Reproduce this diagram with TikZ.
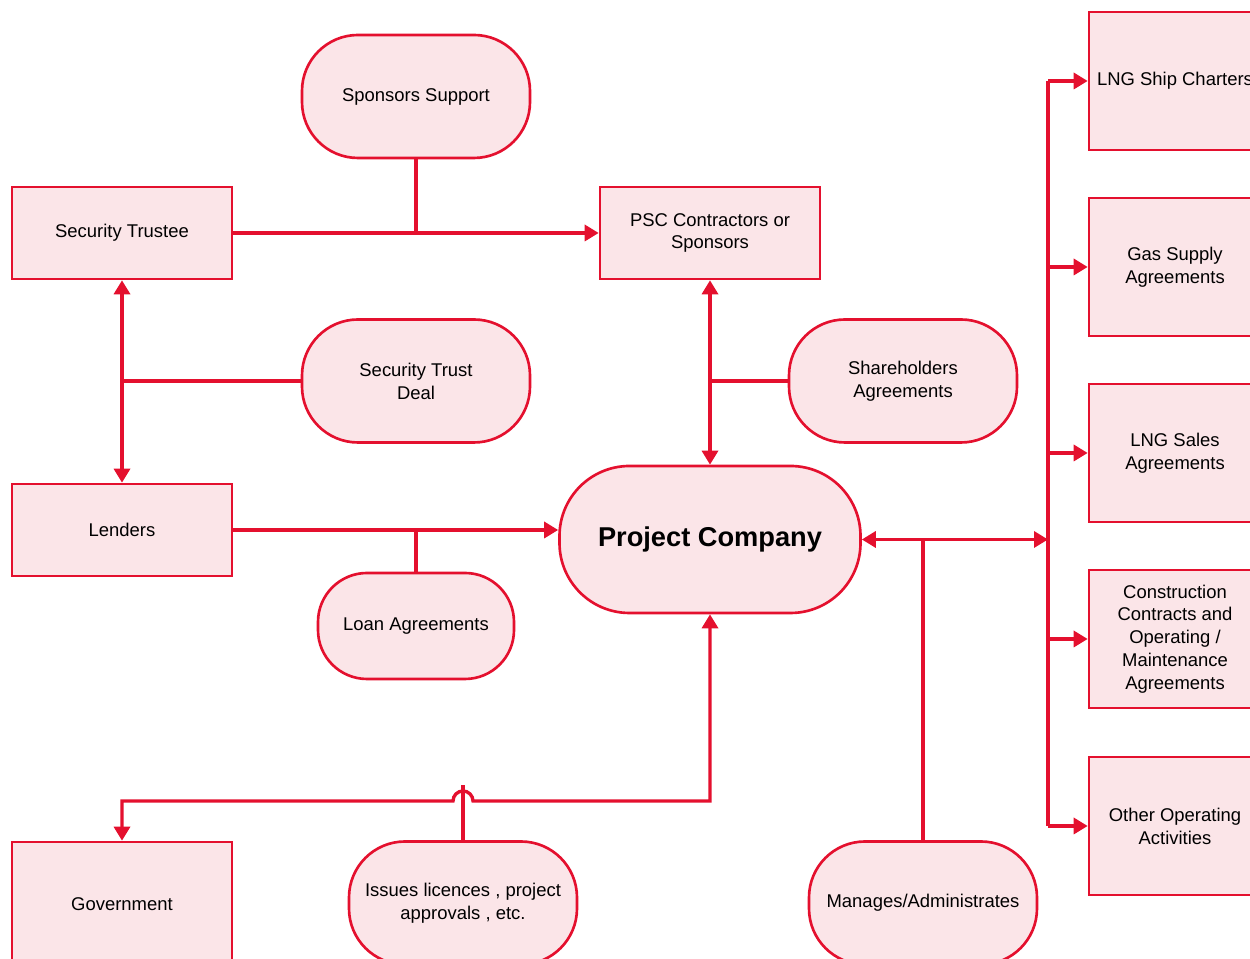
\documentclass[tikz,border=0pt]{standalone}
\usepackage{fontspec}
\setmainfont{Liberation Sans}
\usetikzlibrary{positioning, arrows.meta}
\definecolor{dealred}{RGB}{228,16,46}
\definecolor{dealpink}{RGB}{251,229,232}
\tikzset{
	party/.style={
		rectangle,
		draw=dealred,
		line width=1.5pt,
		fill=dealpink,
		align=center,
		minimum width=4.4cm,
		minimum height=1.84cm,
		font=\fontsize{10.5}{13}\selectfont,
	},
	sidebox/.style={
		party,
		minimum width=3.44cm,
		minimum height=2.76cm,
	},
	pill/.style={
		party,
		rounded corners=1.12cm,
		minimum width=4.56cm,
		minimum height=2.46cm,
	},
	link/.style={
		draw=dealred,
		line width=1.9pt,
	},
}

\begin{document}
\begin{tikzpicture}[>={Triangle[length=0.28cm,width=0.32cm]}]
	\useasboundingbox (0,0) rectangle (25,19.18);

	% parties on the left and in the middle
	\node [pill] (spons) at (8.32,17.25) {Sponsors Support};
	\node [party] (trustee) at (2.44,14.52) {Security Trustee};
	\node [party] (psc) at (14.2,14.52) {PSC Contractors or\\Sponsors};
	\node [pill] (trust) at (8.32,11.56) {Security Trust\\Deal};
	\node [pill] (share) at (18.06,11.56) {Shareholders\\Agreements};
	\node [party] (lenders) at (2.44,8.58) {Lenders};
	\node [pill, minimum width=6.02cm, minimum height=2.94cm, rounded corners=1.4cm,
		font=\fontsize{15.5}{19}\selectfont\bfseries] (pc) at (14.2,8.39) {Project Company};
	\node [pill, minimum width=3.92cm, minimum height=2.12cm, rounded corners=0.98cm] (loan) at (8.32,6.66) {Loan Agreements};
	\node [party, minimum height=2.48cm] (gov) at (2.44,1.1) {Government};
	\node [pill] (issues) at (9.26,1.12) {Issues licences , project\\approvals , etc.};
	\node [pill] (manage) at (18.46,1.12) {Manages/Administrates};

	% agreements on the right
	\node [sidebox] (ship) at (23.5,17.56) {LNG Ship Charters};
	\node [sidebox] (gas) at (23.5,13.84) {Gas Supply\\Agreements};
	\node [sidebox] (sales) at (23.5,10.12) {LNG Sales\\Agreements};
	\node [sidebox] (cons) at (23.5,6.4) {Construction\\Contracts and\\Operating /\\Maintenance\\Agreements};
	\node [sidebox] (other) at (23.5,2.66) {Other Operating\\Activities};

	\coordinate (bustop) at (20.96,17.56);
	\coordinate (busbot) at (20.96,2.66);
	\coordinate (govbend) at (2.44,3.16);
	\coordinate (issuetop) at (9.26,3.48);

	\draw [link, ->] (trustee) to (psc);
	\draw [link] (spons.south) -- (spons.south |- trustee.east);
	\draw [link, <->] (trustee) to (lenders);
	\draw [link] (trust.west) -- (trust.west -| trustee.south);
	\draw [link, <->] (psc) to (pc);
	\draw [link] (share.west) -- (share.west -| psc.south);
	\draw [link, ->] (lenders.east) -- (lenders.east -| pc.west);
	\draw [link] (loan.north) -- (loan.north |- lenders.east);
	\draw [link, <->] (gov.north) -- (govbend) -- ([xshift=-0.2cm]issuetop |- govbend)
		arc [start angle=180, end angle=0, radius=0.2cm] -- (pc.south |- govbend) -- (pc.south);
	\draw [link] (issues.north) -- (issuetop);
	\draw [link] (bustop) -- (busbot);
	\draw [link, <->] (pc.east) -- (pc.east -| bustop);
	\draw [link] (manage.north) -- (manage.north |- pc.east);
	\foreach \side in {ship, gas, sales, cons, other}
		\draw [link, ->] (bustop |- \side.west) -- (\side.west);
\end{tikzpicture}
\end{document}
